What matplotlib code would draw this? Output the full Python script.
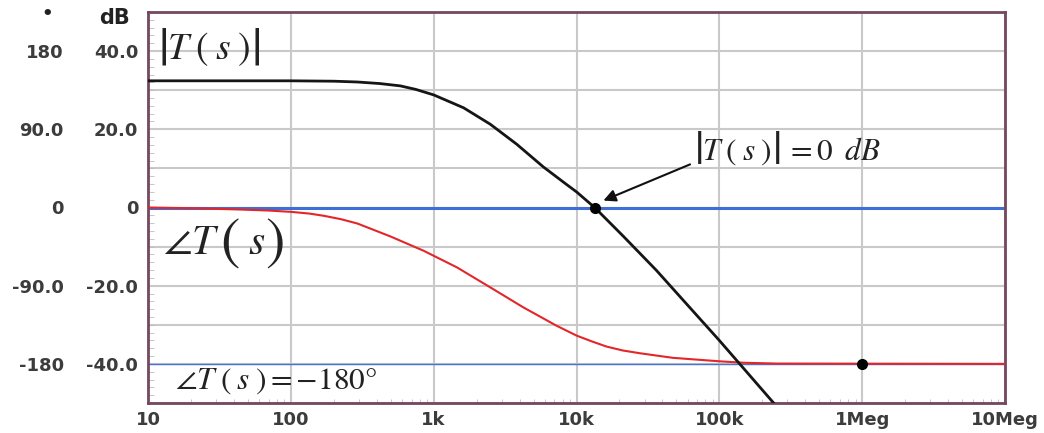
import numpy as np
import matplotlib
matplotlib.use("Agg")
import matplotlib.pyplot as plt
from matplotlib.ticker import FixedLocator, NullFormatter
from matplotlib.offsetbox import TextArea, HPacker, AnnotationBbox

plt.rcParams['font.family'] = ['DejaVu Sans']
plt.rcParams['mathtext.fontset'] = 'stix'

# Gain |T(s)| en dB
f_mag = [10, 100, 200, 292, 420, 585, 750, 1000, 1620, 2490, 3810, 5850, 8510, 10000, 13400,
         21200, 36100, 61800, 100000, 240000]
mag_db = [32.4, 32.4, 32.3, 32.1, 31.7, 31.1, 30.2, 28.8, 25.5, 21.3, 16.2, 10.4, 5.9, 4.0, 0.0,
          -7.3, -16.0, -25.5, -34.0, -50.0]

# Phase de T(s) en degres
f_ph = [10, 23, 44, 70, 100, 135, 171, 225, 292, 498, 851, 1455, 2490, 4240, 7240, 10000,
        13000, 16200, 21000, 27700, 47200, 100000, 149000, 253000, 1e7]
phase_deg = [0, -1, -2.3, -3.5, -5, -7, -9.6, -13.5, -18.4, -33.3, -49.8, -68.9, -91.9, -114.9, -136, -147.4,
             -154.5, -160, -164.5, -167.7, -173, -177, -178.7, -179.6, -180]

# points remarquables
f_cross, mag_cross = 13400, 0.0
f_pm, phase_pm = 1e6, -180

x_ticks = [10, 100, 1e3, 1e4, 1e5, 1e6, 1e7]
x_labels = ['10', '100', '1k', '10k', '100k', '1Meg', '10Meg']
db_ticks = [-40, -20, 0, 20, 40]
db_labels = ['-40.0', '-20.0', '0', '20.0', '40.0']
deg_ticks = [-180, -90, 0, 90, 180]
deg_labels = ['-180', '-90.0', '0', '90.0', '180']

k = 4.5  # 180 deg <-> 40 dB
lab = dict(fontsize=13, fontweight='bold', color='#3c3c3c')


def formule(ax, morceaux, xy):
    # morceaux : liste de (texte, taille) mis bout a bout
    boites = [TextArea(t, textprops=dict(fontsize=s, color='#222222')) for t, s in morceaux]
    pack = HPacker(children=boites, align='center', pad=0, sep=0)
    ab = AnnotationBbox(pack, xy, xycoords='data', box_alignment=(0, 0.5), frameon=False, pad=0)
    ax.add_artist(ab)


fig = plt.figure(figsize=(10.44, 4.33), dpi=100)
ax = fig.add_axes([148/1044, 1-403/433, 857/1044, 391/433])

ax.set_xscale('log')
ax.set_xlim(10, 1e7)
ax.set_ylim(-50, 50)

# grille
ax.grid(True, which='major', axis='x', color='#c9c9c9', lw=1.5)
for y in np.arange(-50, 51, 10):
    ax.axhline(y, color='#c9c9c9', lw=1.5, zorder=0)
ax.yaxis.set_minor_locator(FixedLocator(np.arange(-50, 51, 2)))

ax.axhline(0, color='#3d6fd6', lw=2.2, zorder=2)
ax.axhline(-40, color='#4a72d0', lw=1.0, zorder=2)

ax.plot(f_ph, np.array(phase_deg) / k, color='#e3262a', lw=1.5, zorder=3)
ax.plot(f_mag, mag_db, color='#151515', lw=2.0, zorder=4)
ax.plot([f_cross], [mag_cross], 'o', color='black', ms=7, zorder=5)
ax.plot([f_pm], [phase_pm / k], 'o', color='black', ms=7, zorder=5)

# axe x
ax.set_xticks(x_ticks)
ax.set_xticklabels(x_labels, **lab)
ax.xaxis.set_minor_formatter(NullFormatter())
ax.tick_params(axis='x', which='major', length=0, pad=6)
ax.tick_params(axis='x', which='minor', direction='in', length=3, color='#bdbdbd')

# axe y (dB)
ax.set_yticks(db_ticks)
ax.set_yticklabels(db_labels, **lab)
ax.tick_params(axis='y', which='major', length=0, pad=7)
ax.tick_params(axis='y', which='minor', direction='in', length=4, color='#bdbdbd')

# axe des degres
ax2 = ax.secondary_yaxis(-80/857, functions=(lambda y: y * k, lambda y: y / k))
ax2.set_yticks(deg_ticks)
ax2.set_yticklabels(deg_labels, **lab)
ax2.tick_params(length=0, pad=3)
ax2.spines['left'].set_visible(False)

for s in ax.spines.values():
    s.set_color('#74485f')
    s.set_linewidth(2)

# textes
formule(ax, [(r'$|$', 38), (r'$T\;(\;s\;)$', 27), (r'$|$', 38)], (11.8, 40.5))
formule(ax, [(r'$\angle T\;$', 30), (r'$($', 42), (r'$\;s\;$', 30), (r'$)$', 42)], (12.8, -8.7))
formule(ax, [(r'$\angle T\;(\;s\;) = -180°$', 22.5)], (15.5, -44.2))
formule(ax, [(r'$|$', 34), (r'$T\;(\;s\;)$', 22.5), (r'$|$', 34), (r'$\;=0\;\;dB$', 22.5)], (66000, 14.2))
ax.annotate('', xy=(14800, 1.5), xytext=(65000, 11.3),
            arrowprops=dict(arrowstyle='-|>', color='#111111', lw=1.5, mutation_scale=18))

fig.text(115/1044, 1-18/433, 'dB', fontsize=15, fontweight='bold', ha='center', va='center', color='#222222')
fig.text(47/1044, 1-14/433, '•', fontsize=13, fontweight='bold', ha='center', va='center', color='#222222')

fig.savefig('out.png', dpi=100)
